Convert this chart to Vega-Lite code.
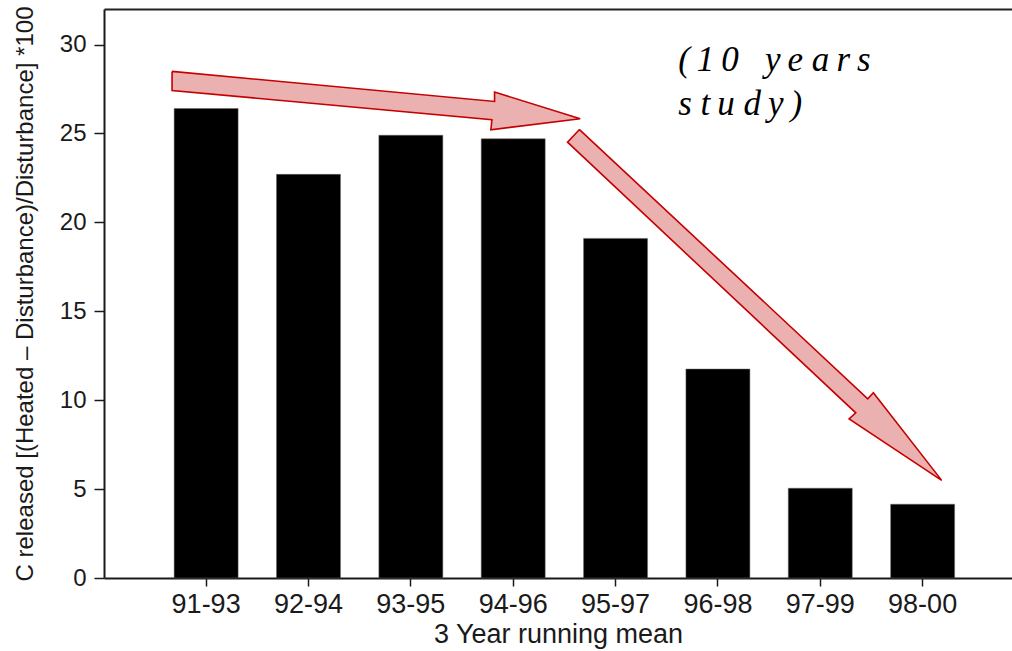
{
  "$schema": "https://vega.github.io/schema/vega-lite/v6.json",
  "width": 908,
  "height": 569,
  "autosize": {"type": "none"},
  "padding": {"left": 104, "top": 9, "right": 0, "bottom": 73},
  "background": "white",
  "config": {
    "view": {"stroke": null},
    "axis": {"labelFont": "Liberation Sans", "titleFont": "Liberation Sans", "labelColor": "#1a1a1a", "titleColor": "#1a1a1a", "domainColor": "#1a1a1a", "tickColor": "#1a1a1a", "grid": false, "titleFontWeight": "normal"}
  },
  "datasets": {
    "bars": [
      {"period": "91-93", "value": 26.4},
      {"period": "92-94", "value": 22.7},
      {"period": "93-95", "value": 24.9},
      {"period": "94-96", "value": 24.7},
      {"period": "95-97", "value": 19.1},
      {"period": "96-98", "value": 11.75},
      {"period": "97-99", "value": 5.05},
      {"period": "98-00", "value": 4.15}
    ],
    "arrows": [
      {"arrow": "a", "i": 1, "px": 0.665, "py": 28.49},
      {"arrow": "a", "i": 2, "px": 3.817, "py": 26.80},
      {"arrow": "a", "i": 3, "px": 3.817, "py": 27.33},
      {"arrow": "a", "i": 4, "px": 4.654, "py": 25.83},
      {"arrow": "a", "i": 5, "px": 3.781, "py": 25.21},
      {"arrow": "a", "i": 6, "px": 3.791, "py": 25.77},
      {"arrow": "a", "i": 7, "px": 0.665, "py": 27.42},
      {"arrow": "a", "i": 8, "px": 0.665, "py": 28.49},
      {"arrow": "b", "i": 1, "px": 4.647, "py": 25.22},
      {"arrow": "b", "i": 2, "px": 7.464, "py": 10.08},
      {"arrow": "b", "i": 3, "px": 7.519, "py": 10.42},
      {"arrow": "b", "i": 4, "px": 8.187, "py": 5.49},
      {"arrow": "b", "i": 5, "px": 7.282, "py": 8.95},
      {"arrow": "b", "i": 6, "px": 7.347, "py": 9.29},
      {"arrow": "b", "i": 7, "px": 4.530, "py": 24.51},
      {"arrow": "b", "i": 8, "px": 4.647, "py": 25.22}
    ],
    "note": [
      {"label": ["(\u20091\u20090\u00a0\u00a0\u00a0y\u2009e\u00a0a\u2009r\u2009s", "s\u00a0t\u2009u\u00a0d\u2009y\u2009)"], "px": 5.611, "py": 28.53}
    ]
  },
  "layer": [
    {
      "data": {"name": "bars"},
      "mark": {"type": "bar", "color": "black", "stroke": "#666", "strokeWidth": 0.5},
      "encoding": {
        "x": {
          "field": "period", "type": "nominal", "sort": null,
          "scale": {"paddingInner": 0.375, "paddingOuter": 0.623, "align": 0.55},
          "axis": {"title": "3 Year running mean", "labelAngle": 0, "labelFontSize": 27, "titleFontSize": 27, "tickSize": 8, "tickWidth": 1.5, "domainWidth": 2, "labelPadding": 5, "titlePadding": 4}
        },
        "y": {
          "field": "value", "type": "quantitative",
          "scale": {"domain": [0, 32], "nice": false},
          "axis": {"title": "C released [(Heated \u2013 Disturbance)/Disturbance] *100", "values": [0, 5, 10, 15, 20, 25, 30], "labelFontSize": 24, "titleFontSize": 24, "tickSize": 10, "tickWidth": 1.5, "domainWidth": 2, "labelPadding": 8, "titlePadding": 22}
        }
      }
    },
    {
      "data": {"name": "arrows"},
      "mark": {"type": "line", "fill": "#ebb1b1", "stroke": "#c40000", "strokeWidth": 1.6, "strokeJoin": "miter"},
      "encoding": {
        "x": {"field": "px", "type": "quantitative", "scale": {"domain": [0, 8.874], "nice": false, "zero": false}, "axis": {"orient": "top", "ticks": false, "labels": false, "title": null, "domainWidth": 2, "domainColor": "#222"}},
        "y": {"field": "py", "type": "quantitative"},
        "detail": {"field": "arrow"},
        "order": {"field": "i", "type": "quantitative"}
      }
    },
    {
      "data": {"name": "note"},
      "mark": {"type": "text", "font": "Liberation Serif", "fontStyle": "italic", "fontSize": 35, "lineHeight": 44, "align": "left", "baseline": "alphabetic", "color": "black"},
      "encoding": {
        "x": {"field": "px", "type": "quantitative", "scale": {"domain": [0, 8.874], "nice": false, "zero": false}, "axis": null},
        "y": {"field": "py", "type": "quantitative"},
        "text": {"field": "label"}
      }
    }
  ],
  "resolve": {"scale": {"x": "independent"}, "axis": {"x": "independent"}}
}
